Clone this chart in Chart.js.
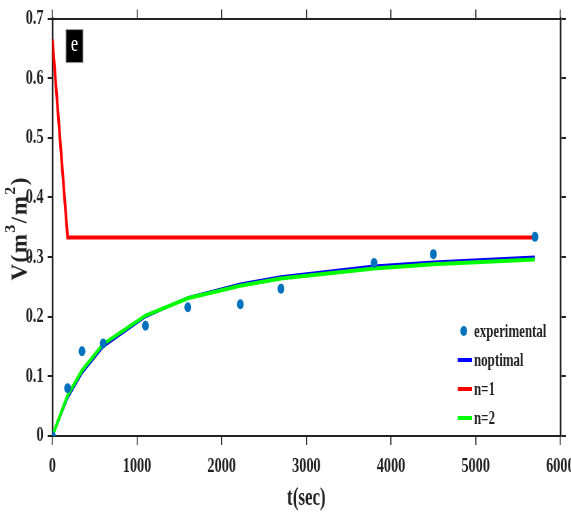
<!DOCTYPE html>
<html>
<head>
<meta charset="utf-8">
<script src="https://cdn.jsdelivr.net/npm/chart.js@4/dist/chart.umd.min.js"></script>
<style>
  html, body { margin: 0; padding: 0; background: #fff; overflow: hidden; }
  #clip { width: 571px; height: 514px; overflow: hidden; position: relative; }
  /* the source figure is horizontally compressed, so draw wide and squeeze */
  #wrap { width: 880px; height: 514px; transform: scaleX(0.68); transform-origin: 0 0; }
</style>
</head>
<body>
<div id="clip"><div id="wrap"><canvas id="c"></canvas></div></div>
<script>
// data
const times = [0, 180, 350, 600, 1100, 1600, 2220, 2700, 3800, 4500, 5700];
const experimental = [0, 0.080, 0.142, 0.155, 0.185, 0.216, 0.221, 0.247, 0.290, 0.305, 0.334];
const nOptimal = [0, 0.064, 0.106, 0.150, 0.200, 0.232, 0.255, 0.267, 0.285, 0.292, 0.300];
const nOne = [0.665, 0.333, 0.333, 0.333, 0.333, 0.333, 0.333, 0.333, 0.333, 0.333, 0.333];
const nTwo = [0, 0.068, 0.110, 0.154, 0.202, 0.231, 0.252, 0.264, 0.281, 0.288, 0.296];
const xTicks = [0, 1000, 2000, 3000, 4000, 5000, 6000];
const yTicks = [0, 0.1, 0.2, 0.3, 0.4, 0.5, 0.6, 0.7];

const SQUEEZE = 0.68;
const FONT = '"Liberation Serif", "Times New Roman", serif';
const INK = '#222';

function pts(ys) {
  return times.map((t, i) => ({ x: t, y: ys[i] }));
}

const extras = {
  id: 'extras',
  afterDraw(chart) {
    const ctx = chart.ctx;
    const sets = chart.data.datasets;
    const a = chart.chartArea;

    // legend inside the plot, lower right
    const x0 = 673, x1 = 694, tx = 697;
    const rows = [331, 360, 389, 418];
    ctx.save();
    ctx.font = 'bold 19px ' + FONT;
    ctx.textBaseline = 'middle';
    sets.forEach((ds, i) => {
      const y = rows[i];
      if (ds.showLine === false) {
        ctx.fillStyle = ds.backgroundColor;
        ctx.beginPath();
        ctx.arc(682, y, 5, 0, Math.PI * 2);
        ctx.fill();
      } else {
        ctx.strokeStyle = ds.borderColor;
        ctx.lineWidth = 4;
        ctx.beginPath();
        ctx.moveTo(x0, y);
        ctx.lineTo(x1, y);
        ctx.stroke();
      }
      ctx.fillStyle = INK;
      ctx.fillText(ds.label, tx, y + 1);
    });

    // panel tag "e"
    const bx = a.left + 20, by = a.top + 11;
    ctx.fillStyle = '#000';
    ctx.fillRect(bx, by, 25, 33);
    ctx.strokeStyle = '#999';
    ctx.lineWidth = 1;
    ctx.strokeRect(bx, by, 25, 33);
    ctx.fillStyle = '#fff';
    ctx.font = '24px ' + FONT;
    ctx.textAlign = 'center';
    ctx.fillText('e', bx + 12.5, by + 15);
    ctx.restore();

    // y axis title, drawn unsqueezed like the original
    const parts = [['V(m', 0], ['3', 1], ['/m', 0], ['2', 1], [')', 0]];
    ctx.save();
    ctx.translate(29, (a.top + a.bottom) / 2 + 1);
    ctx.scale(1 / SQUEEZE, 1);
    ctx.rotate(-Math.PI / 2);
    ctx.fillStyle = INK;
    ctx.textBaseline = 'middle';
    ctx.textAlign = 'left';
    const big = 'bold 23px ' + FONT, small = 'bold 16px ' + FONT;
    const gap = 1.5;
    let total = 0;
    parts.forEach(([s, sup]) => {
      ctx.font = sup ? small : big;
      total += ctx.measureText(s).width + gap * s.length;
    });
    let x = -total / 2;
    parts.forEach(([s, sup]) => {
      ctx.font = sup ? small : big;
      for (const ch of s) {
        ctx.fillText(ch, x, sup ? -9 : 1);
        x += ctx.measureText(ch).width + gap;
      }
    });
    ctx.restore();
  }
};

const axisGrid = { drawOnChartArea: false, drawTicks: true, color: INK, lineWidth: 1.5 };

new Chart(document.getElementById('c'), {
  type: 'scatter',
  data: {
    datasets: [
      {
        label: 'experimental', data: pts(experimental), showLine: false,
        backgroundColor: '#0072BD', borderWidth: 0, pointRadius: 5, order: 0
      },
      {
        label: 'noptimal', data: pts(nOptimal), showLine: true, borderColor: '#0000FF',
        borderWidth: 3, pointRadius: 0, order: 3
      },
      {
        label: 'n=1', data: pts(nOne), showLine: true, borderColor: '#FF0000',
        borderWidth: 4, pointRadius: 0, order: 1
      },
      {
        label: 'n=2', data: pts(nTwo), showLine: true, borderColor: '#00FF00',
        borderWidth: 4, pointRadius: 0, order: 2
      }
    ]
  },
  options: {
    responsive: true,
    maintainAspectRatio: false,
    animation: false,
    layout: { padding: 0 },
    plugins: { legend: { display: false }, tooltip: { enabled: false } },
    scales: {
      x: {
        type: 'linear', position: 'bottom', min: 0, max: 6000,
        afterBuildTicks: s => { s.ticks = xTicks.map(v => ({ value: v })); },
        afterFit: s => { s.height = 78; },
        grid: Object.assign({ tickLength: 9 }, axisGrid),
        border: { color: INK, width: 2 },
        ticks: {
          color: INK, padding: 9, maxRotation: 0, font: { family: FONT, size: 21, weight: 'bold' },
          callback: v => String(v)
        },
        title: {
          display: true, text: 't(sec)', color: INK, padding: { top: 0, bottom: 0 },
          font: { family: FONT, size: 25, weight: 'bold' }
        }
      },
      x2: {
        type: 'linear', position: 'top', min: 0, max: 6000,
        afterBuildTicks: s => { s.ticks = xTicks.map(v => ({ value: v })); },
        afterFit: s => { s.height = 16; },
        grid: Object.assign({ tickLength: 9 }, axisGrid),
        border: { color: INK, width: 2 },
        ticks: { display: false }
      },
      y: {
        type: 'linear', position: 'left', min: 0, max: 0.7,
        afterBuildTicks: s => { s.ticks = yTicks.map(v => ({ value: v })); },
        afterFit: s => { s.width = 77; },
        grid: Object.assign({ tickLength: 7 }, axisGrid, { lineWidth: 2 }),
        border: { color: INK, width: 2.5 },
        ticks: {
          color: INK, padding: 6, font: { family: FONT, size: 21, weight: 'bold' },
          callback: v => (v === 0 ? '0' : v.toFixed(1))
        }
      },
      y2: {
        type: 'linear', position: 'right', min: 0, max: 0.7,
        afterBuildTicks: s => { s.ticks = yTicks.map(v => ({ value: v })); },
        afterFit: s => { s.width = 880 - 824; },
        grid: Object.assign({ tickLength: 8 }, axisGrid, { lineWidth: 2 }),
        border: { color: INK, width: 2.5 },
        ticks: { display: false }
      }
    }
  },
  plugins: [extras]
});
</script>
</body>
</html>
